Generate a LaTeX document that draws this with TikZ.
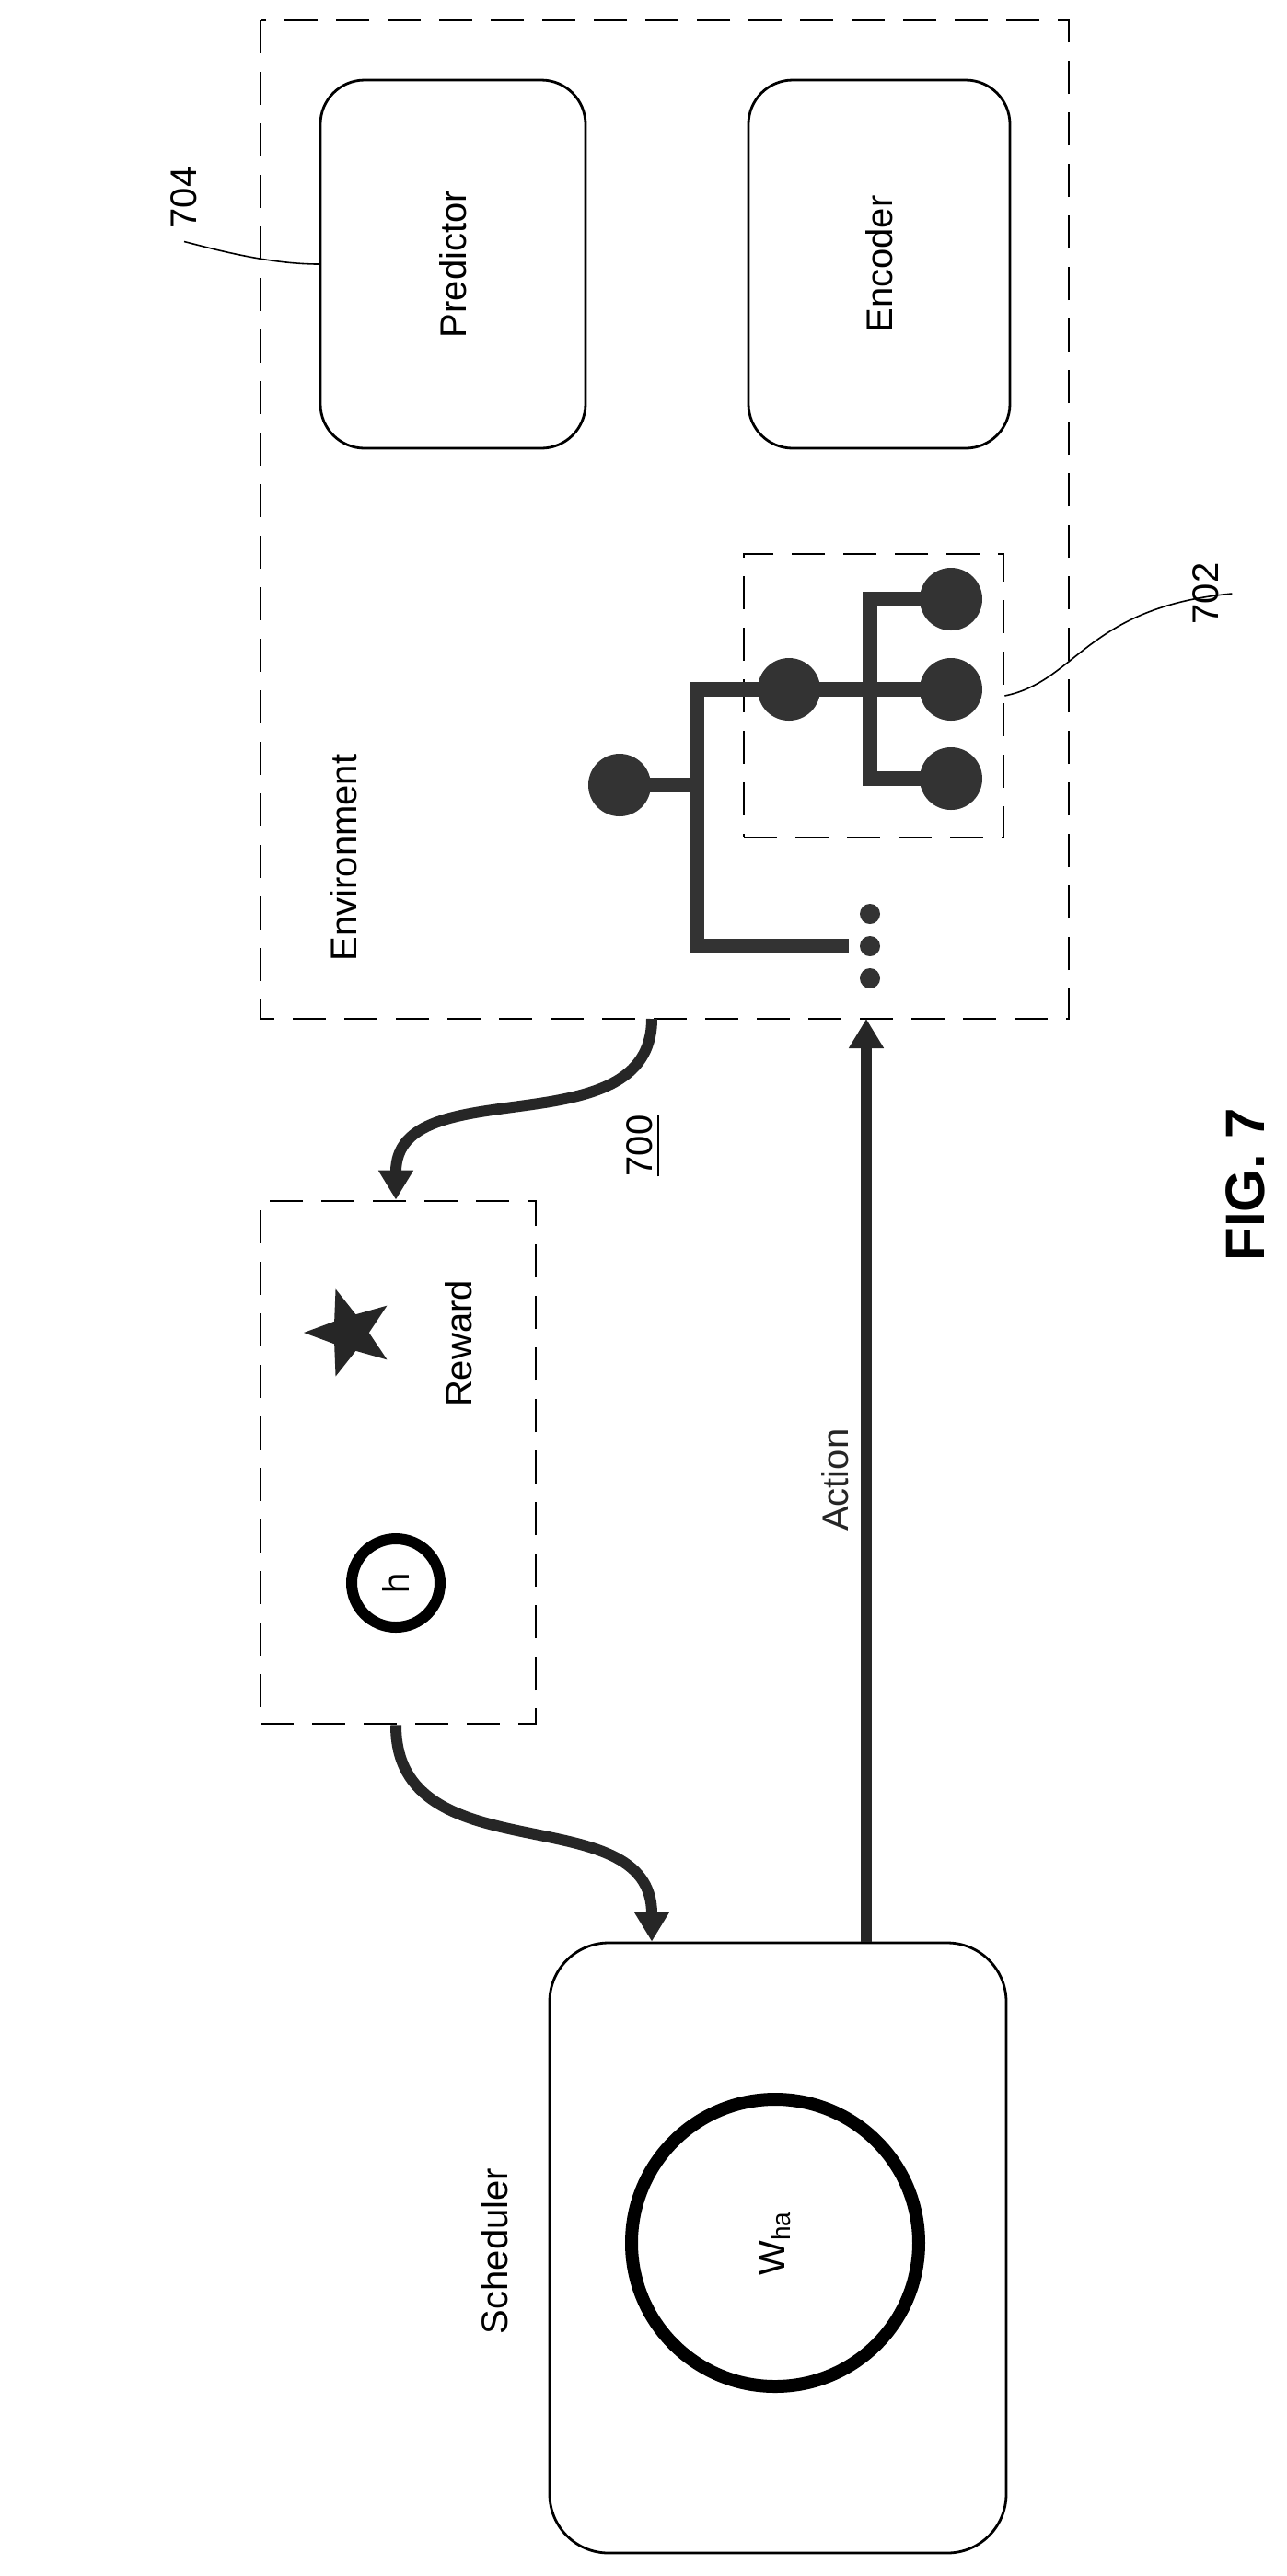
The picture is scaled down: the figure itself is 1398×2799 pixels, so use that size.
\documentclass[tikz,border=0pt]{standalone}
\usepackage{fontspec}
\setmainfont{Liberation Sans}
\usetikzlibrary{shapes.geometric,arrows.meta}
\tikzset{
  dashed box/.style = {draw, dash pattern=on 9pt off 5pt, line width=0.7pt},
  round box/.style = {draw, rounded corners=12pt, line width=0.7pt},
  label text/.style = {rotate=90, font=\fontsize{10}{12}\selectfont},
  tree/.style = {line width=4.2pt, color=black!80},
  leaf/.style = {circle, fill=black!80, minimum size=17pt, inner sep=0pt},
  dot/.style = {circle, fill=black!80, minimum size=5.5pt, inner sep=0pt},
  flow/.style = {-{Triangle[length=8pt,width=9pt]}, line width=3pt, black!85},
  leader/.style = {line width=0.4pt}
}
\begin{document}
\begin{tikzpicture}[x=0.25pt,y=-0.25pt]
  \useasboundingbox (0,0) rectangle (1398,2799);

  % environment
  \draw[dashed box] (283,22) rectangle (1161,1107);
  \node[round box, minimum width=72pt, minimum height=100pt] (pred) at (492,287) {};
  \node[label text] at (pred) {Predictor};
  \node[round box, minimum width=71pt, minimum height=100pt] (enc) at (955,287) {};
  \node[label text] at (enc) {Encoder};
  \node[label text] (env) at (373,932) {Environment};
  \node[label text] (l704) at (200,215) {704};
  \draw[leader] (pred.west) .. controls (290,287) and (230,270) .. (l704.west);

  % tree
  \node[dashed box, minimum width=70.5pt, minimum height=77pt] (sub) at (949,756) {};
  \node[label text] (l702) at (1310,645) {702};
  \draw[leader] (sub.east) .. controls (1170,740) and (1180,660) .. (l702.south);
  \draw[tree] (673,853) -- (757,853);
  \draw[tree] (922,1028) -- (757,1028) -- (757,749) -- (1033,749);
  \draw[tree] (1033,651) -- (945,651) -- (945,846) -- (1033,846);
  \node[leaf] (n0) at (673,853) {};
  \node[leaf] (n1) at (857,749) {};
  \node[leaf] (n2) at (1033,651) {};
  \node[leaf] (n3) at (1033,749) {};
  \node[leaf] (n4) at (1033,846) {};
  \foreach \y in {993,1028,1063} \node[dot] at (945,\y) {};

  % titles
  \node[label text] (num) at (699,1245) {\underline{700}};
  \node[rotate=90, font=\fontsize{15}{18}\selectfont\bfseries] (fig) at (1353,1287) {FIG. 7};

  % reward
  \node[dashed box, minimum width=74.75pt, minimum height=142pt] (rew) at (432.5,1589) {};
  \node[star, star points=5, star point ratio=2.4, fill=black!85, minimum size=25pt, inner sep=0pt, rotate=90] (star) at (380,1448) {};
  \node[label text] at (498,1460) {Reward};
  \node[circle, draw, line width=3pt, minimum size=24pt] (h) at (430,1720) {};
  \node[label text] at (h) {h};

  % scheduler
  \node[round box, rounded corners=16pt, minimum width=124pt, minimum height=165.75pt] (sched) at (845,2442.5) {};
  \node[circle, draw, line width=3.5pt, minimum size=78pt] (w) at (842,2437) {};
  \node[label text] at (w) {W$_{\mathrm{ha}}$};
  \node[label text] (schedt) at (537,2446) {Scheduler};

  % connectors
  \coordinate (envout) at (708,1107);
  \coordinate (envin) at (941,1107);
  \draw[flow] (envout) .. controls (708,1250) and (430,1160) .. (rew.north -| h);
  \draw[flow] (rew.south -| h) .. controls (430,2040) and (708,1950) .. (sched.north -| envout);
  \draw[flow] (sched.north -| envin) -- node[label text, above] {Action} (envin);
\end{tikzpicture}
\end{document}
